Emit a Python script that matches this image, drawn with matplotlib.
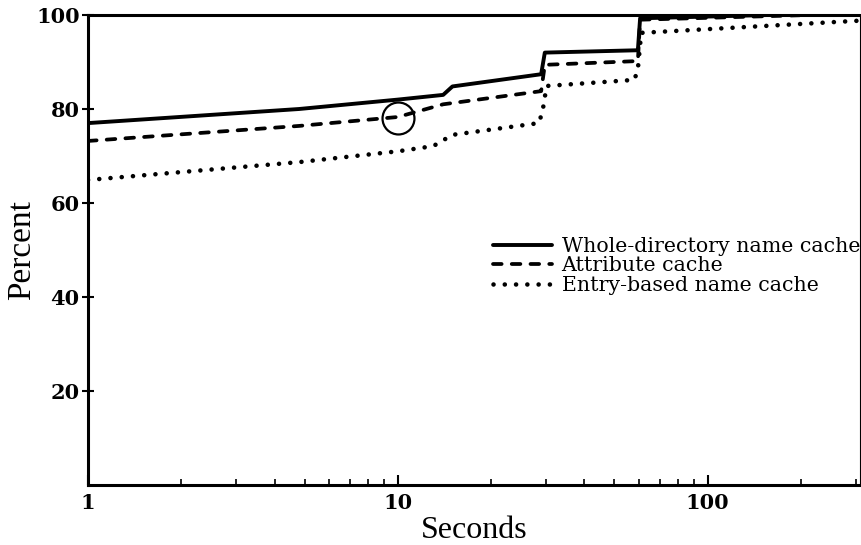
import numpy as np
import matplotlib
matplotlib.use('Agg')
import matplotlib.pyplot as plt
from matplotlib.ticker import FixedLocator, NullFormatter, FixedFormatter

# ---- data ----
whole_x = [1, 4.8, 10, 14, 15, 29, 29.8, 59.5, 60.5, 310]
whole_y = [77.0, 80.0, 82.0, 83.0, 84.8, 87.4, 92.0, 92.5, 99.3, 100.5]

attr_x = [1, 4.8, 10, 14, 29, 29.8, 59.5, 60.5, 310]
attr_y = [73.2, 76.4, 78.3, 81.0, 83.8, 89.4, 90.2, 99.0, 100.3]

entry_x = [1, 4.8, 10, 13, 15, 28.5, 29.3, 30.2, 58, 59.5, 61, 310]
entry_y = [64.9, 68.7, 71.0, 72.1, 74.5, 77.0, 79.5, 84.9, 86.2, 88.5, 96.2, 98.8]

labels = ['Whole-directory name cache', 'Attribute cache', 'Entry-based name cache']

circle_x = [10]
circle_y = [78]

yticks = [20, 40, 60, 80, 100]
xticks = [1, 10, 100]
xminor = [2, 3, 4, 5, 6, 7, 8, 9, 20, 30, 40, 50, 60, 70, 80, 90, 200, 300]

# ---- plot ----
fig = plt.figure(figsize=(8.61, 5.45), dpi=100)
ax = fig.add_axes([88/861, 60/545, 772/861, 470/545])

ax.plot(whole_x, whole_y, color='black', lw=2.8, solid_capstyle='round',
        solid_joinstyle='round', label=labels[0])
ax.plot(attr_x, attr_y, color='black', lw=2.7, linestyle=(0, (2.3, 2.7)),
        dash_capstyle='round', label=labels[1])
ax.plot(entry_x, entry_y, color='black', lw=3.3, linestyle=(0, (0.01, 2.45)),
        dash_capstyle='round', label=labels[2])
ax.plot(circle_x, circle_y, 'o', markersize=23, markerfacecolor='none',
        markeredgecolor='black', markeredgewidth=1.6)

ax.set_xscale('log')
ax.set_xlim(1, 310)
ax.set_ylim(0, 100)

for s in ['left', 'bottom', 'top']:
    ax.spines[s].set_linewidth(2.2)
ax.spines['right'].set_linewidth(0.8)

ax.xaxis.set_major_locator(FixedLocator(xticks))
ax.xaxis.set_major_formatter(FixedFormatter(['1', '10', '100']))
ax.xaxis.set_minor_locator(FixedLocator(xminor))
ax.xaxis.set_minor_formatter(NullFormatter())
ax.set_yticks(yticks)

ax.tick_params(axis='x', which='major', direction='in', length=7, width=1.5, pad=6)
ax.tick_params(axis='x', which='minor', direction='in', length=4, width=1.2)
ax.tick_params(axis='y', which='major', direction='inout', length=8, width=1.5, pad=2)

for lab in ax.get_xticklabels() + ax.get_yticklabels():
    lab.set_fontfamily('DejaVu Serif')
    lab.set_fontweight('bold')
    lab.set_fontsize(15)

ax.set_xlabel('Seconds', fontfamily='Liberation Serif', fontsize=23, labelpad=2)
ax.set_ylabel('Percent', fontfamily='Liberation Serif', fontsize=24)
ax.yaxis.set_label_coords(-0.066, 0.5)

leg = ax.legend(loc='center right', bbox_to_anchor=(1.0, 0.466), frameon=False,
                prop={'family': 'DejaVu Serif', 'size': 14.8},
                handlelength=2.9, handletextpad=0.45, labelspacing=0.02,
                borderpad=0, borderaxespad=0)

plt.savefig('out.png', dpi=100)
